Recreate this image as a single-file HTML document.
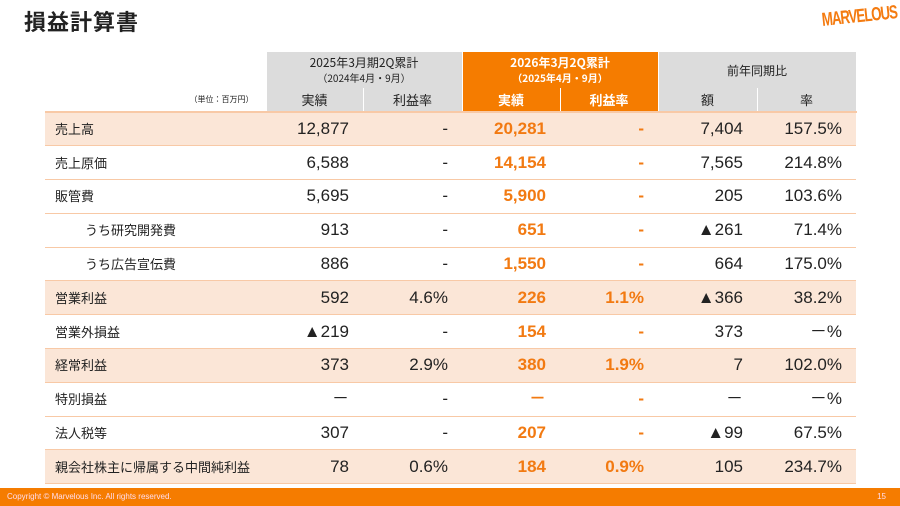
<!DOCTYPE html>
<html><head><meta charset="utf-8"><style>
*{margin:0;padding:0;box-sizing:border-box}
body{width:900px;height:506px;background:#fff;position:relative;overflow:hidden;font-family:"Liberation Sans","Noto Sans CJK JP",sans-serif;color:#222}
h1{position:absolute;left:24px;top:6px;font-size:22px;font-weight:bold;font-family:"Noto Sans CJK JP",sans-serif;letter-spacing:1px;line-height:30px}
.logo{position:absolute;left:822px;top:10px;color:#f47b10;font-weight:bold;font-size:19px;letter-spacing:-1.5px;transform:rotate(-6deg) scaleX(.7);transform-origin:left;font-family:"Liberation Sans",sans-serif}
table{position:absolute;left:45px;top:52px;border-collapse:collapse;table-layout:fixed}
td{padding:0 14px;font-size:17px;height:33.8px;line-height:18px;vertical-align:middle;text-align:right;border-bottom:1px solid #f8c9a6}
td.l{text-align:left;font-size:13px;line-height:14px;padding-left:10px;font-family:"Noto Sans CJK JP",sans-serif}
td.i{padding-left:40px}
tr.h td{background:#fbe6d7}
td.o{color:#f27a12;font-weight:bold}
.hd td{background:#dcdcdc;text-align:center;font-size:12px;border:none;border-right:1px solid #fff;font-family:"Noto Sans CJK JP",sans-serif;padding:0;line-height:15px}
.hd td.or{background:#f57c00;color:#fff;font-weight:bold}
.hd td.b{background:#fff}
.hd td.u{background:#fff;font-size:8px;text-align:right;padding-right:12px}
.sub td{height:24px;font-size:13px;border-bottom:2px solid #f8c9a6}
.foot{position:absolute;left:0;top:488px;width:900px;height:18px;background:#f57c00;color:#fde;font-size:8px;line-height:18px;padding:0 7px}
.foot span{position:absolute;right:14px}
</style></head><body>
<h1>損益計算書</h1>
<div class="logo">MARVELOUS</div>
<table>
<colgroup><col style="width:221px"><col style="width:97px"><col style="width:99px"><col style="width:98px"><col style="width:98px"><col style="width:99px"><col style="width:99px"></colgroup>
<tr class="hd"><td class="b" style="height:36px"></td><td colspan="2">2025年3月期2Q累計<br><span style="font-size:10px">（2024年4月・9月）</span></td><td colspan="2" class="or">2026年3月2Q累計<br><span style="font-size:10px">（2025年4月・9月）</span></td><td colspan="2">前年同期比</td></tr>
<tr class="hd sub"><td class="u">（単位：百万円）</td><td>実績</td><td>利益率</td><td class="or">実績</td><td class="or">利益率</td><td>額</td><td>率</td></tr>
<tr class="h"><td class="l">売上高</td><td>12,877</td><td>-</td><td class="o">20,281</td><td class="o">-</td><td>7,404</td><td>157.5%</td></tr>
<tr><td class="l">売上原価</td><td>6,588</td><td>-</td><td class="o">14,154</td><td class="o">-</td><td>7,565</td><td>214.8%</td></tr>
<tr><td class="l">販管費</td><td>5,695</td><td>-</td><td class="o">5,900</td><td class="o">-</td><td>205</td><td>103.6%</td></tr>
<tr><td class="l i">うち研究開発費</td><td>913</td><td>-</td><td class="o">651</td><td class="o">-</td><td>▲261</td><td>71.4%</td></tr>
<tr><td class="l i">うち広告宣伝費</td><td>886</td><td>-</td><td class="o">1,550</td><td class="o">-</td><td>664</td><td>175.0%</td></tr>
<tr class="h"><td class="l">営業利益</td><td>592</td><td>4.6%</td><td class="o">226</td><td class="o">1.1%</td><td>▲366</td><td>38.2%</td></tr>
<tr><td class="l">営業外損益</td><td>▲219</td><td>-</td><td class="o">154</td><td class="o">-</td><td>373</td><td>－%</td></tr>
<tr class="h"><td class="l">経常利益</td><td>373</td><td>2.9%</td><td class="o">380</td><td class="o">1.9%</td><td>7</td><td>102.0%</td></tr>
<tr><td class="l">特別損益</td><td>－</td><td>-</td><td class="o">－</td><td class="o">-</td><td>－</td><td>－%</td></tr>
<tr><td class="l">法人税等</td><td>307</td><td>-</td><td class="o">207</td><td class="o">-</td><td>▲99</td><td>67.5%</td></tr>
<tr class="h"><td class="l">親会社株主に帰属する中間純利益</td><td>78</td><td>0.6%</td><td class="o">184</td><td class="o">0.9%</td><td>105</td><td>234.7%</td></tr>
</table>
<div class="foot">Copyright © Marvelous Inc. All rights reserved.<span>15</span></div>
</body></html>
